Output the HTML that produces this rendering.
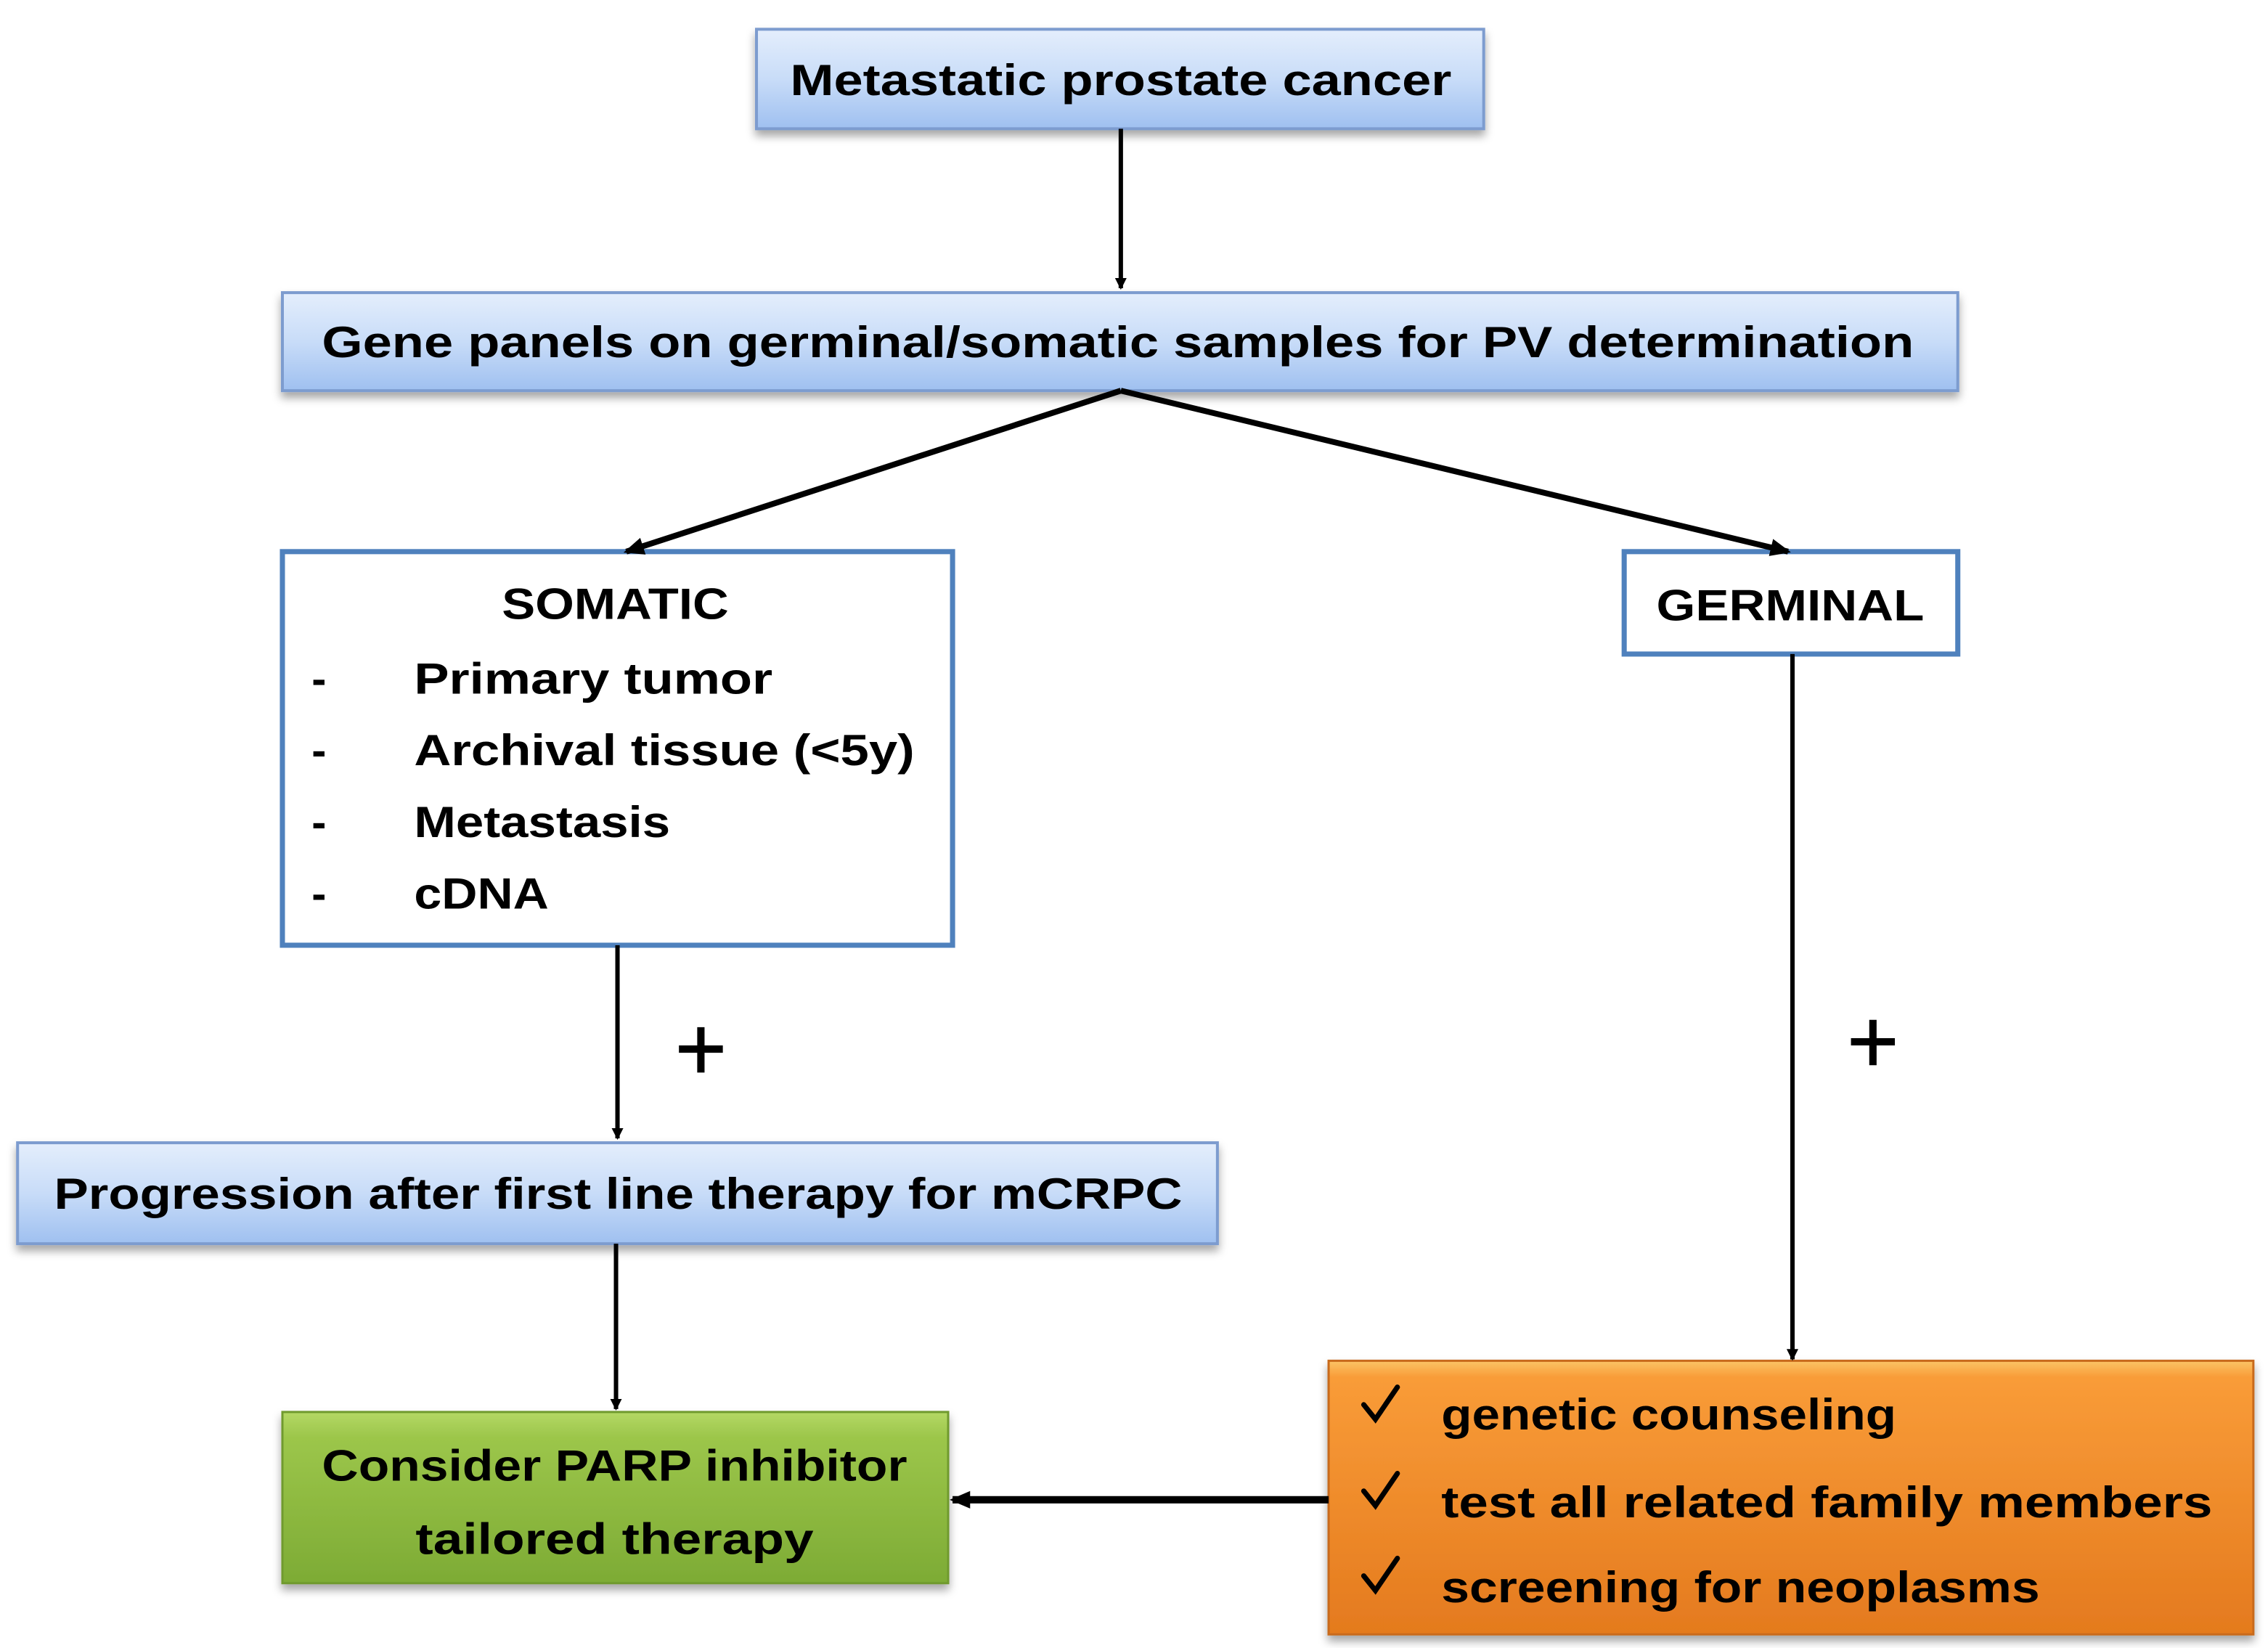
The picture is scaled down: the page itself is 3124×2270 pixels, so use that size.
<!DOCTYPE html>
<html><head><meta charset="utf-8"><style>html,body{margin:0;padding:0;background:#fff}svg{display:block}</style></head><body>
<svg xmlns="http://www.w3.org/2000/svg" width="3124" height="2270" viewBox="0 0 1550 1126.3" preserveAspectRatio="none" font-family="'Liberation Sans', sans-serif" font-weight="bold">
<defs>
<linearGradient id="blue" x1="0" y1="0" x2="0" y2="1"><stop offset="0" stop-color="#e4eefc"/><stop offset="0.5" stop-color="#c8dcf8"/><stop offset="1" stop-color="#9fc0f0"/></linearGradient>
<linearGradient id="green" x1="0" y1="0" x2="0" y2="1"><stop offset="0" stop-color="#b4d865"/><stop offset="0.15" stop-color="#9cc64a"/><stop offset="1" stop-color="#7dab35"/></linearGradient>
<linearGradient id="orange" x1="0" y1="0" x2="0" y2="1"><stop offset="0" stop-color="#fbc466"/><stop offset="0.06" stop-color="#f99c38"/><stop offset="1" stop-color="#e47a1e"/></linearGradient>
<filter id="sh" x="-5%" y="-10%" width="110%" height="130%"><feDropShadow dx="0" dy="4" stdDeviation="3" flood-color="#000" flood-opacity="0.35"/></filter>
<marker id="ah" markerWidth="8" markerHeight="8" refX="7" refY="4" orient="auto" markerUnits="userSpaceOnUse"><path d="M0,0 L8,4 L0,8 z" fill="#000"/></marker>
<marker id="ah2" markerWidth="14" markerHeight="12" refX="12" refY="6" orient="auto" markerUnits="userSpaceOnUse"><path d="M0,0 L14,6 L0,12 z" fill="#000"/></marker>
</defs>

<!-- boxes -->
<rect x="517" y="20" width="497" height="68" fill="url(#blue)" stroke="#7d9ccf" stroke-width="2" filter="url(#sh)"/>
<rect x="193" y="200" width="1145" height="67" fill="url(#blue)" stroke="#7d9ccf" stroke-width="2" filter="url(#sh)"/>
<rect x="193" y="377" width="458" height="269" fill="#fff" stroke="#4f81bd" stroke-width="3.5"/>
<rect x="1110" y="377" width="228" height="70" fill="#fff" stroke="#4f81bd" stroke-width="3.5"/>
<rect x="12" y="781" width="820" height="69" fill="url(#blue)" stroke="#7d9ccf" stroke-width="2" filter="url(#sh)"/>
<rect x="193" y="965" width="455" height="117" fill="url(#green)" stroke="#6f9a2e" stroke-width="1.5" filter="url(#sh)"/>
<rect x="908" y="930" width="632" height="187" fill="url(#orange)" stroke="#c86a1a" stroke-width="1.5" filter="url(#sh)"/>

<!-- connectors -->
<g stroke="#000" fill="none">
<line x1="766" y1="88" x2="766" y2="197" stroke-width="3" marker-end="url(#ah)"/>
<line x1="766" y1="267" x2="428" y2="377" stroke-width="4" marker-end="url(#ah2)"/>
<line x1="766" y1="267" x2="1222" y2="377" stroke-width="4" marker-end="url(#ah2)"/>
<line x1="422" y1="646" x2="422" y2="778" stroke-width="3" marker-end="url(#ah)"/>
<line x1="421" y1="850" x2="421" y2="963" stroke-width="3" marker-end="url(#ah)"/>
<line x1="1225" y1="447" x2="1225" y2="929" stroke-width="3" marker-end="url(#ah)"/>
<line x1="908" y1="1025" x2="651" y2="1025" stroke-width="5" marker-end="url(#ah2)"/>
</g>
<!-- plus signs -->
<g stroke="#000" stroke-width="5">
<line x1="479" y1="702" x2="479" y2="733"/><line x1="464" y1="717" x2="494" y2="717"/>
<line x1="1280" y1="697" x2="1280" y2="728"/><line x1="1265" y1="712" x2="1295" y2="712"/>
</g>

<!-- text -->
<g fill="#000" font-size="30" lengthAdjust="spacingAndGlyphs">
<text x="540" y="65" textLength="452" lengthAdjust="spacingAndGlyphs">Metastatic prostate cancer</text>
<text x="220" y="244" textLength="1088" lengthAdjust="spacingAndGlyphs">Gene panels on germinal/somatic samples for PV determination</text>
<text x="343" y="423" textLength="155" lengthAdjust="spacingAndGlyphs">SOMATIC</text>
<text x="213" y="474">-</text><text x="283" y="474" textLength="245" lengthAdjust="spacingAndGlyphs">Primary tumor</text>
<text x="213" y="523">-</text><text x="283" y="523" textLength="342" lengthAdjust="spacingAndGlyphs">Archival tissue (&lt;5y)</text>
<text x="213" y="572">-</text><text x="283" y="572" textLength="175" lengthAdjust="spacingAndGlyphs">Metastasis</text>
<text x="213" y="621">-</text><text x="283" y="621" textLength="92" lengthAdjust="spacingAndGlyphs">cDNA</text>
<text x="1132" y="424" textLength="183" lengthAdjust="spacingAndGlyphs">GERMINAL</text>
<text x="37" y="826" textLength="771" lengthAdjust="spacingAndGlyphs">Progression after first line therapy for mCRPC</text>
<text x="220" y="1012" textLength="400" lengthAdjust="spacingAndGlyphs">Consider PARP inhibitor</text>
<text x="284" y="1062" textLength="272" lengthAdjust="spacingAndGlyphs">tailored therapy</text>
<text x="985" y="977" textLength="311" lengthAdjust="spacingAndGlyphs">genetic counseling</text>
<text x="985" y="1037" textLength="527" lengthAdjust="spacingAndGlyphs">test all related family members</text>
<text x="985" y="1095" textLength="409" lengthAdjust="spacingAndGlyphs">screening for neoplasms</text>
</g>
<g fill="none" stroke="#000" stroke-width="3.5" stroke-linecap="round">
<path d="M932,960 L940,970 L955,948"/>
<path d="M932,1019 L940,1029 L955,1007"/>
<path d="M932,1077 L940,1087 L955,1065"/>
</g>
</svg>
</body></html>
